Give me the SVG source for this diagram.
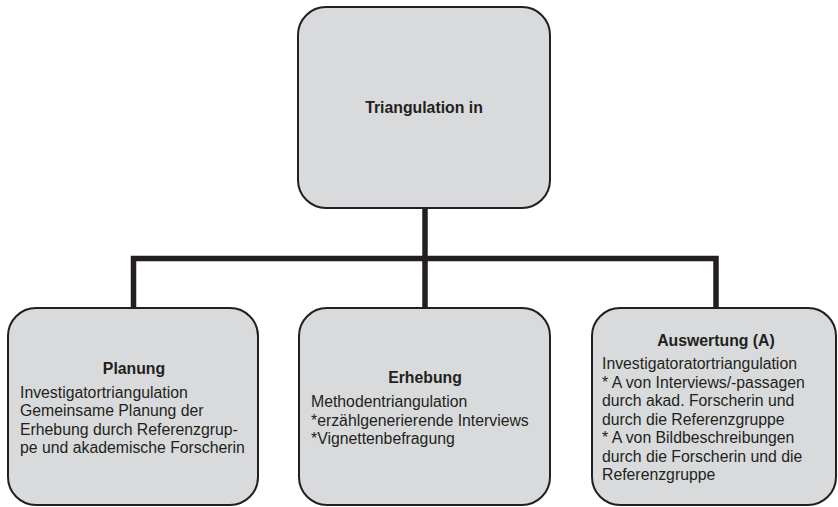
<svg xmlns="http://www.w3.org/2000/svg" width="838" height="507" viewBox="0 0 838 507">
<style>
.box{fill:#d9dadb;stroke:#231f20;stroke-width:2}
.t{font-family:"Liberation Sans",Arial,sans-serif;font-size:15.8px;fill:#231f20}
.b{font-weight:bold;text-anchor:middle}
.conn{fill:none;stroke:#231f20;stroke-width:5.5;stroke-linejoin:miter}
</style>
<rect width="838" height="507" fill="#ffffff"/>
<g id="connectors">
<path class="conn" d="M425,207 V308"/>
<path class="conn" d="M133.5,308 V258.5 H716 V308"/>
</g>
<g id="top">
<rect class="box" x="298" y="7" width="252" height="201" rx="28" ry="28"/>
<text class="t b" x="424" y="113">Triangulation in</text>
</g>
<g id="planung">
<rect class="box" x="8" y="308" width="250" height="197" rx="28" ry="28"/>
<text class="t b" x="134" y="374">Planung</text>
<text class="t" x="20" y="397.5">Investigatortriangulation</text>
<text class="t" x="20" y="416">Gemeinsame Planung der</text>
<text class="t" x="20" y="434.5">Erhebung durch Referenzgrup-</text>
<text class="t" x="20" y="453">pe und akademische Forscherin</text>
</g>
<g id="erhebung">
<rect class="box" x="299" y="308" width="251" height="197" rx="28" ry="28"/>
<text class="t b" x="425" y="383">Erhebung</text>
<text class="t" x="311" y="407">Methodentriangulation</text>
<text class="t" x="311" y="425.5">*erzählgenerierende Interviews</text>
<text class="t" x="311" y="444">*Vignettenbefragung</text>
</g>
<g id="auswertung">
<rect class="box" x="592" y="308" width="244" height="197" rx="28" ry="28"/>
<text class="t b" x="716" y="345.5">Auswertung (A)</text>
<text class="t" x="602" y="369">Investigatoratortriangulation</text>
<text class="t" x="602" y="387.5">* A von Interviews/-passagen</text>
<text class="t" x="602" y="406">durch akad. Forscherin und</text>
<text class="t" x="602" y="424.5">durch die Referenzgruppe</text>
<text class="t" x="602" y="443">* A von Bildbeschreibungen</text>
<text class="t" x="602" y="461.5">durch die Forscherin und die</text>
<text class="t" x="602" y="480">Referenzgruppe</text>
</g>
</svg>
